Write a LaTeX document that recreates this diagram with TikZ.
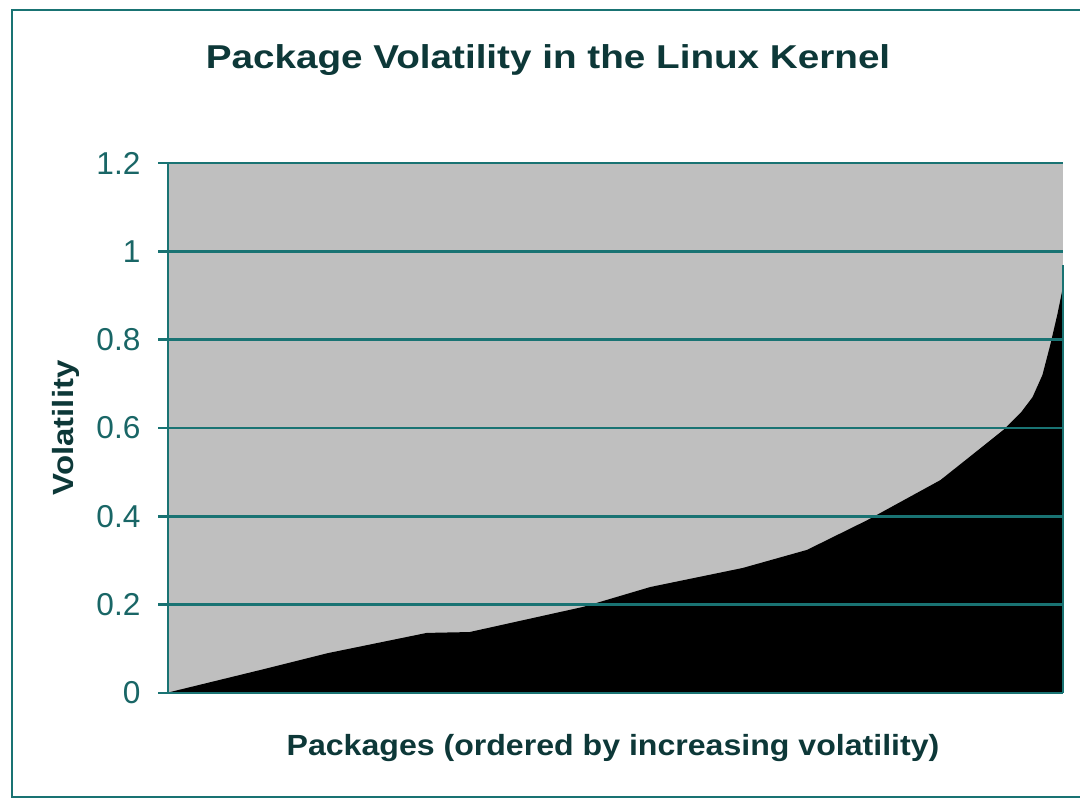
\documentclass[tikz,border=0pt]{standalone}
\usepackage{fontspec}
\setmainfont{Liberation Sans}
\usepackage{tikz}
\definecolor{framecol}{rgb}{0.10,0.45,0.45}
\definecolor{labelcol}{rgb}{0.05,0.22,0.22}
\definecolor{tickcol}{rgb}{0.10,0.40,0.40}
\definecolor{plotgray}{rgb}{0.75,0.75,0.75}
\tikzstyle{gridline} = [framecol, line width=0.7pt]
\tikzstyle{ticklabel} = [anchor=east, text=tickcol, inner sep=0pt, %
                         font=\fontsize{9}{10}\selectfont]
\tikzstyle{axislabel} = [text=labelcol, inner sep=0pt, %
                         font=\bfseries\fontsize{8.3}{10}\selectfont]

\begin{document}
\begin{tikzpicture}
      \useasboundingbox (0,0) rectangle (10.8,8);
      \clip (0,0) rectangle (10.8,8);
      % Chart frame
      \draw [framecol, line width=0.8pt] (0.12,0.03) rectangle (11,7.9);
      % Texts
      \node (title) [axislabel, font=\bfseries\fontsize{9.4}{11}\selectfont] %
        at (5.48,7.40) {\scalebox{1.17}[1]{Package Volatility in the Linux Kernel}};
      \node (xlabel) [axislabel] at (6.13,0.52) %
        {\scalebox{1.10}[1]{Packages (ordered by increasing volatility)}};
      \node (ylabel) [axislabel, rotate=90] at (0.66,3.72) %
        {\scalebox{1.13}[1]{Volatility}};
      \begin{scope}[shift={(1.68,1.07)}, x=8.95cm, y=4.4167cm]
        % Plot area
        \fill [plotgray] (0,0) rectangle (1,1.2);
        % Volatility curve
        \fill [black] (0,0) -- plot coordinates {(0.002,0.002) (0.103,0.052) %
          (0.178,0.090) (0.289,0.136) (0.337,0.138) (0.464,0.195) %
          (0.539,0.240) (0.642,0.283) (0.714,0.324) (0.781,0.391) %
          (0.863,0.482) (0.899,0.540) (0.933,0.595) (0.953,0.635) %
          (0.966,0.670) (0.977,0.720) (0.986,0.790) (0.994,0.860) %
          (1,0.920) (1,0.968)} -- (1,0) -- cycle;
        \draw [framecol, line width=0.6pt] (1,0) -- (1,0.968);
        % Grid lines
        \draw [gridline] (-0.011,0.2) -- (1,0.2);
        \draw [gridline] (-0.011,0.4) -- (1,0.4);
        \draw [gridline] (-0.011,0.6) -- (1,0.6);
        \draw [gridline] (-0.011,0.8) -- (1,0.8);
        \draw [gridline] (-0.011,1.0) -- (1,1.0);
        \draw [gridline] (-0.011,1.2) -- (1,1.2);
        % Axes
        \draw [gridline] (0,0) -- (0,1.2);
        \draw [gridline] (-0.011,0) -- (1,0);
        % Tick labels
        \node (t0)  [ticklabel] at (-0.030,0)   {0};
        \node (t02) [ticklabel] at (-0.030,0.2) {0.2};
        \node (t04) [ticklabel] at (-0.030,0.4) {0.4};
        \node (t06) [ticklabel] at (-0.030,0.6) {0.6};
        \node (t08) [ticklabel] at (-0.030,0.8) {0.8};
        \node (t10) [ticklabel] at (-0.030,1.0) {1};
        \node (t12) [ticklabel] at (-0.030,1.2) {1.2};
      \end{scope}
\end{tikzpicture}
\end{document}
